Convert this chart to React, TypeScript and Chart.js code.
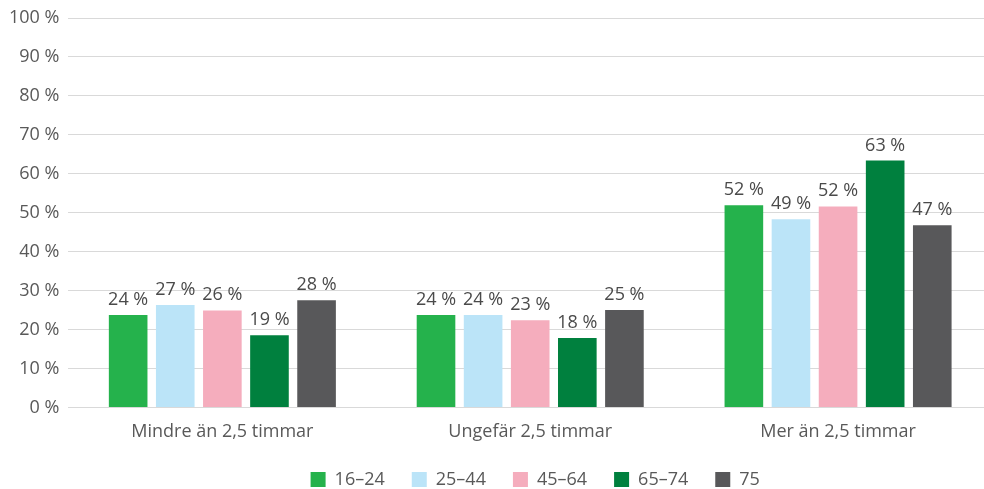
import React, { useEffect, useRef } from "react";
import { Chart, registerables } from "chart.js";

Chart.register(...registerables);

const categories = ["Mindre än 2,5 timmar", "Ungefär 2,5 timmar", "Mer än 2,5 timmar"];
const seriesNames = ["16–24", "25–44", "45–64", "65–74", "75"];
const s1624 = [23.7, 23.7, 51.9];
const s2544 = [26.3, 23.7, 48.3];
const s4564 = [24.9, 22.4, 51.6];
const s6574 = [18.5, 17.8, 63.4];
const s75 = [27.5, 25.0, 46.8];
const label1624 = ["24 %", "24 %", "52 %"];
const label2544 = ["27 %", "24 %", "49 %"];
const label4564 = ["26 %", "23 %", "52 %"];
const label6574 = ["19 %", "18 %", "63 %"];
const label75 = ["28 %", "25 %", "47 %"];
const colors = ["#25b24c", "#bbe4f8", "#f5adbd", "#00803e", "#58585a"];
const yTicks = [0, 10, 20, 30, 40, 50, 60, 70, 80, 90, 100];

const FONT = "'Open Sans', sans-serif";

export default function App() {
  const ref = useRef<HTMLCanvasElement | null>(null);
  useEffect(() => {
    if (!ref.current) return;
    const values = [s1624, s2544, s4564, s6574, s75];
    const labels = [label1624, label2544, label4564, label6574, label75];
    const dataLabelPlugin = {
      id: "dataLabels",
      afterDatasetsDraw(chart: any) {
        const ctx = chart.ctx;
        ctx.save();
        ctx.font = `18px ${FONT}`;
        ctx.fillStyle = "#4a4a4a";
        ctx.textAlign = "center";
        ctx.textBaseline = "alphabetic";
        chart.data.datasets.forEach((ds: any, i: number) => {
          const meta = chart.getDatasetMeta(i);
          meta.data.forEach((el: any, j: number) => {
            ctx.fillText(labels[i][j], el.x, el.y - 10);
          });
        });
        ctx.restore();
      },
    };
    const legendPlugin = {
      id: "customLegend",
      afterDraw(chart: any) {
        const ctx = chart.ctx;
        const box = 15;
        const textGap = 9;
        const itemGap = 27;
        ctx.save();
        ctx.font = `18px ${FONT}`;
        const widths = seriesNames.map((n) => box + textGap + ctx.measureText(n).width);
        const total = widths.reduce((a, b) => a + b, 0) + itemGap * (widths.length - 1);
        const area = chart.chartArea;
        let x = (area.left + area.right) / 2 - total / 2 + 5;
        const cy = 479.5;
        ctx.textAlign = "left";
        ctx.textBaseline = "middle";
        seriesNames.forEach((n, i) => {
          ctx.fillStyle = colors[i];
          ctx.fillRect(x, cy - box / 2, box, box);
          ctx.fillStyle = "#595959";
          ctx.fillText(n, x + box + textGap, cy);
          x += widths[i] + itemGap;
        });
        ctx.restore();
      },
    };
    const chart = new Chart(ref.current, {
      type: "bar",
      data: {
        labels: categories,
        datasets: seriesNames.map((n, i) => ({
          label: n,
          data: values[i],
          backgroundColor: colors[i],
          borderWidth: 0,
          categoryPercentage: 0.765,
          barPercentage: 0.82,
        })),
      },
      options: {
        animation: false,
        responsive: true,
        maintainAspectRatio: false,
        layout: { padding: { top: 0, left: 0, right: 0, bottom: 32 } },
        plugins: {
          legend: { display: false },
          tooltip: { enabled: false },
        },
        scales: {
          x: {
            grid: { display: false, drawTicks: false },
            border: { display: true, color: "#d9d9d9", width: 1 },
            ticks: { color: "#595959", font: { family: FONT, size: 18 }, padding: 14 },
          },
          y: {
            min: 0,
            max: 100,
            afterBuildTicks(axis: any) {
              axis.ticks = yTicks.map((v) => ({ value: v }));
            },
            grid: { color: "#d9d9d9", lineWidth: 1, drawTicks: false },
            border: { display: false },
            ticks: {
              color: "#595959",
              font: { family: FONT, size: 18, lineHeight: 1 },
              padding: 9,
              callback: (v: any) => `${v} %`,
            },
          },
        },
      },
      plugins: [dataLabelPlugin, legendPlugin],
    });
    return () => chart.destroy();
  }, []);
  return (
    <div style={{ position: "fixed", left: 0, top: 0, width: 984, height: 489, overflow: "hidden", background: "#fff" }}>
      <div style={{ position: "absolute", left: 0, top: 0, width: 992, height: 489 }}>
        <canvas ref={ref} />
      </div>
    </div>
  );
}
